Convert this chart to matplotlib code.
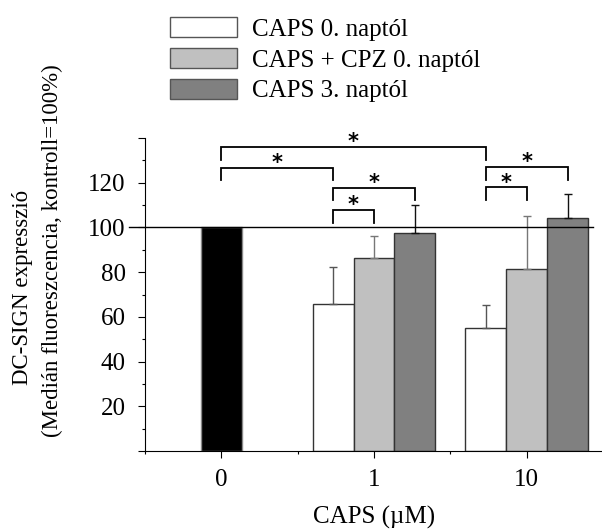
import numpy as np
import matplotlib
matplotlib.use("Agg")
import matplotlib.pyplot as plt
from matplotlib.patches import Patch

plt.rcParams['font.family'] = ['Liberation Serif', 'DejaVu Serif']

# CAPS doses (uM) on the x axis
doses = ['0', '1', '10']
control = 100.0

series_names = ['CAPS 0. naptól', 'CAPS + CPZ 0. naptól', 'CAPS 3. naptól']
series_colors = ['#ffffff', '#c0c0c0', '#808080']
err_colors = ['#555555', '#777777', '#111111']

# mean and SD for doses 1 and 10 uM
caps_d0 = [65.6, 55.0]
caps_d0_sd = [16.6, 10.2]
caps_cpz_d0 = [86.2, 81.6]
caps_cpz_d0_sd = [9.8, 23.5]
caps_d3 = [97.4, 104.2]
caps_d3_sd = [12.5, 10.6]

means = [caps_d0, caps_cpz_d0, caps_d3]
sds = [caps_d0_sd, caps_cpz_d0_sd, caps_d3_sd]

# significance brackets: (left bar, right bar, bracket height, leg length)
brackets = [
    (('ctrl', 0), (2, 0), 136.0, 5.7),
    (('ctrl', 0), (1, 0), 126.7, 5.5),
    ((1, 0), (1, 2), 117.7, 5.5),
    ((1, 0), (1, 1), 107.8, 6.0),
    ((2, 0), (2, 2), 127.2, 5.9),
    ((2, 0), (2, 1), 117.9, 5.7),
]

fig = plt.figure(figsize=(6.02, 5.31), dpi=100)
ax = fig.add_axes([145 / 602, 80 / 531, 458 / 602, 313 / 531])

w = 0.268
x_groups = np.array([1, 2])


def bar_x(key):
    if key[0] == 'ctrl':
        return 0.0
    g, i = key
    return g + (i - 1) * w


# control bar
ax.bar(0, control, width=w, color='black', edgecolor='#888888', linewidth=1.0, zorder=2)

for i in range(3):
    xs = x_groups + (i - 1) * w
    ax.bar(xs, means[i], width=w, color=series_colors[i], edgecolor='#333333',
           linewidth=1.0, zorder=2)
    ax.errorbar(xs, means[i], yerr=[np.zeros(len(xs)), sds[i]], fmt='none',
                ecolor=err_colors[i], elinewidth=1.0, capsize=2.9, capthick=1.0, zorder=3)

# control level line
ax.axhline(100, xmin=-0.035, xmax=0.978, color='black', linewidth=1.0, clip_on=False, zorder=4)

for a, b, top, leg in brackets:
    x1, x2 = bar_x(a), bar_x(b)
    ax.plot([x1, x1, x2, x2], [top - leg, top, top, top - leg], color='black',
            linewidth=1.3, clip_on=False, zorder=5, solid_joinstyle='miter')
    ax.text((x1 + x2) / 2, top - 2.3, '*', ha='center', va='bottom', fontsize=15,
            fontweight='bold', family='DejaVu Sans', clip_on=False)

ax.set_xlim(-0.5, 2.5)
ax.set_ylim(0, 140)
ax.set_xticks([0, 1, 2])
ax.set_xticklabels(doses, fontsize=18)
ax.set_xticks([-0.5, 0.5, 1.5], minor=True)
yt = np.arange(0, 141, 20)
ax.set_yticks(yt)
ax.set_yticklabels(['' if v in (0, 140) else str(v) for v in yt], fontsize=18)
ax.set_yticks(np.arange(10, 140, 10), minor=True)

ax.tick_params(axis='both', which='major', direction='out', length=4.8, width=0.8)
ax.tick_params(axis='both', which='minor', direction='out', length=2.4, width=0.8)
ax.tick_params(axis='x', which='major', pad=8)
ax.tick_params(axis='y', which='major', pad=9)

for s in ('top', 'right'):
    ax.spines[s].set_visible(False)
for s in ('left', 'bottom'):
    ax.spines[s].set_linewidth(0.8)

ax.set_xlabel('CAPS (µM)', fontsize=18, labelpad=11)

fig.text(23 / 602, 1 - 287 / 531, 'DC-SIGN expresszió', rotation=90, ha='center',
         va='center', fontsize=16.5)
fig.text(52 / 602, 1 - 251 / 531, '(Medián fluoreszcencia, kontroll=100%)', rotation=90,
         ha='center', va='center', fontsize=16.5)

handles = [Patch(facecolor=c, edgecolor='#555555', linewidth=1.0) for c in series_colors]
fig.legend(handles, series_names, loc='upper left', bbox_to_anchor=(170 / 602, 1 - 17 / 531),
           frameon=False, fontsize=18, handlelength=2.68, handleheight=0.87,
           handletextpad=0.6, labelspacing=0.28, borderpad=0, borderaxespad=0)

fig.savefig('out.png', dpi=100)
